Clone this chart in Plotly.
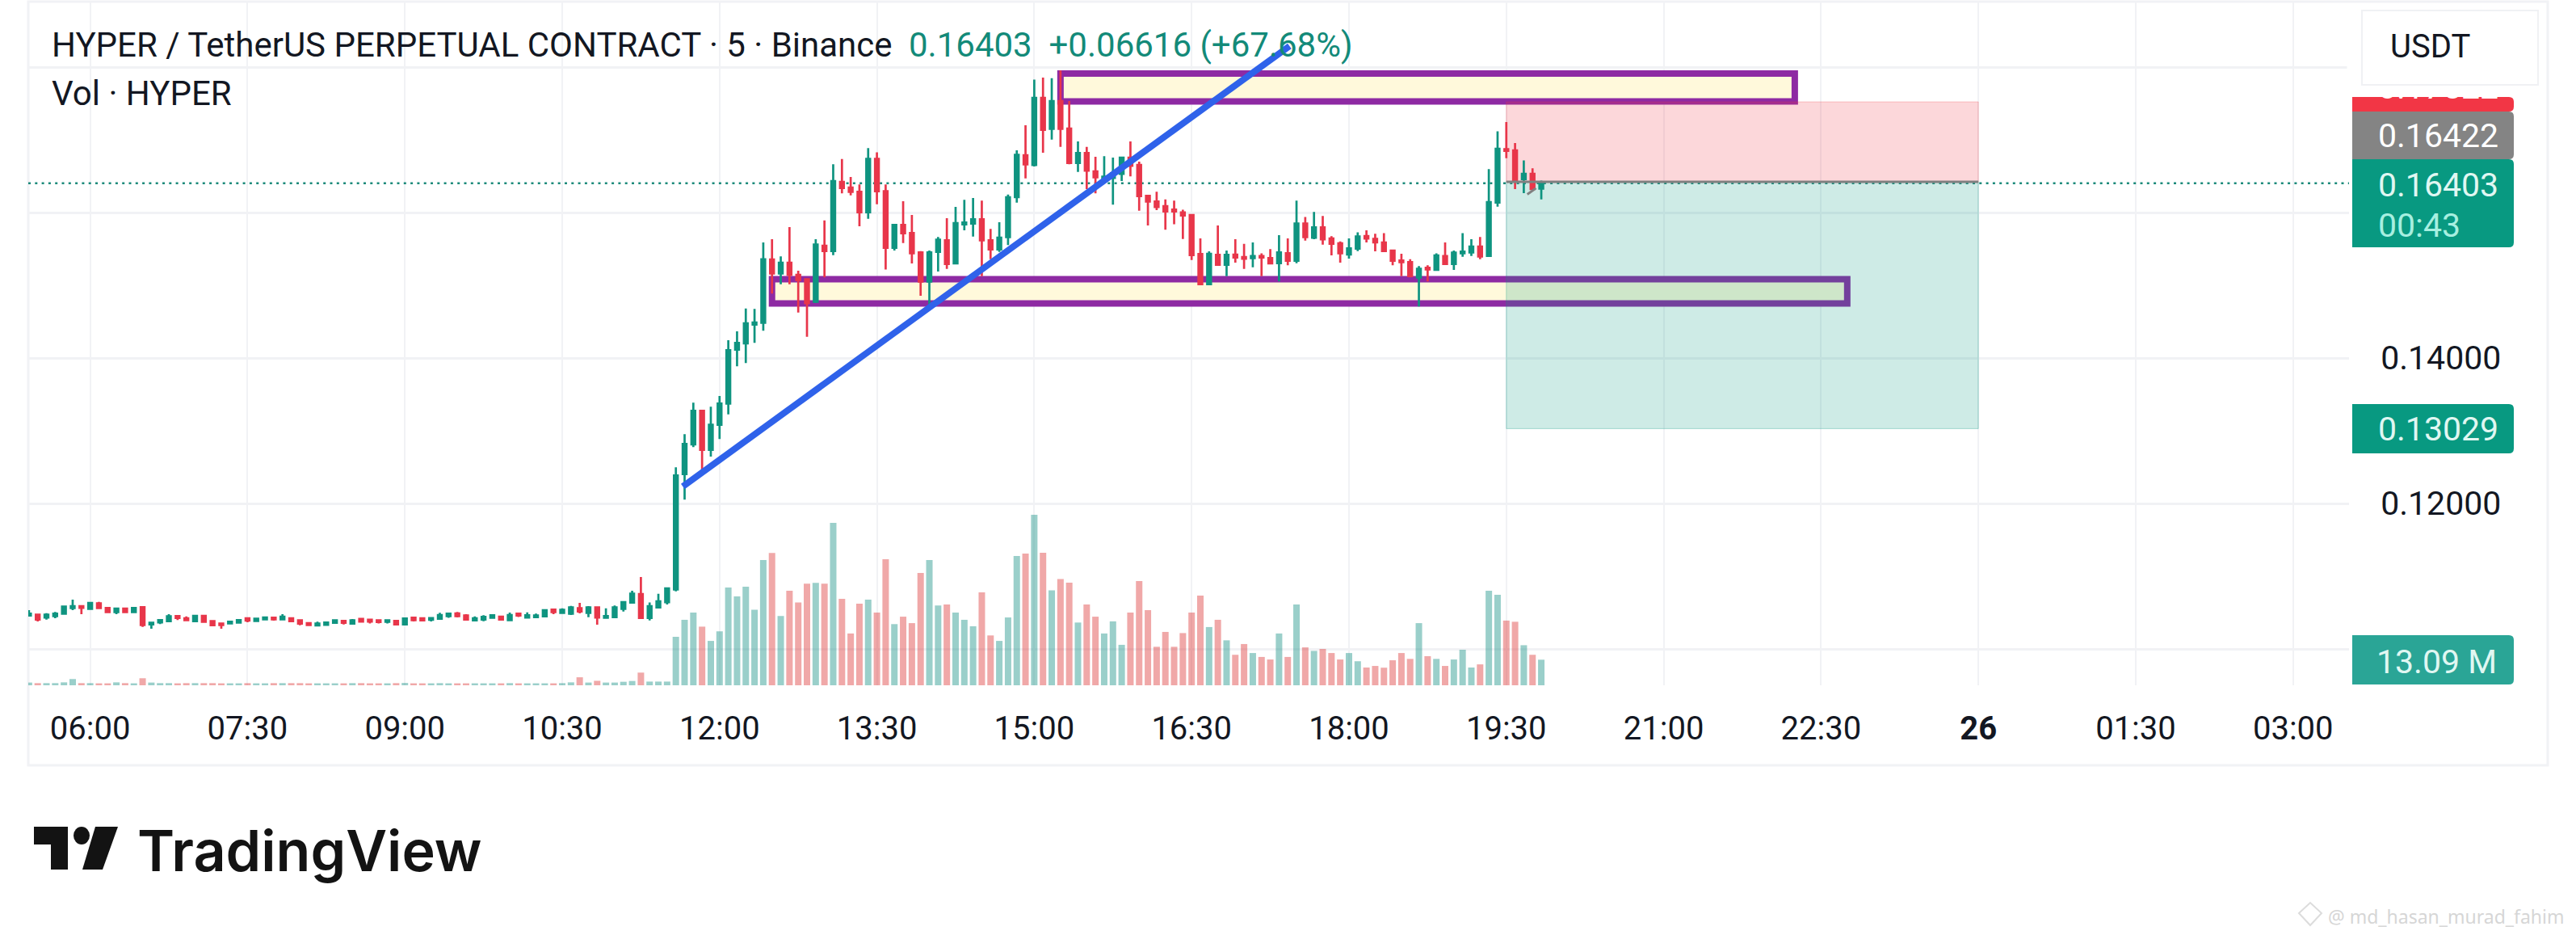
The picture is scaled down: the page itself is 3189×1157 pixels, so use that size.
import pandas as pd
import plotly.graph_objects as go

W, H = 3189, 1157

# 5 minute bars, first one at 05:25
opens = [
    .10459, .10470, .10433, .10452, .10485, .10563, .10589, .10552, .10626, .10563,
    .10507, .10555, .10507, .10574, .10337, .10366, .10381, .10452, .10422, .10381,
    .10455, .10381, .10348, .10352, .10363, .10422, .10385, .10407, .10429, .10407,
    .10422, .10392, .10355, .10322, .10333, .10359, .10385, .10348, .10414, .10403,
    .10392, .10374, .10385, .10337, .10429, .10422, .10400, .10414, .10451, .10488,
    .10459, .10392, .10403, .10429, .10444, .10396, .10485, .10433, .10437, .10448,
    .10540, .10496, .10485, .10559, .10496, .10570, .10429, .10437, .10551, .10637,
    .10755, .10425, .10570, .10644, .10818, .12404, .12811, .13274, .12737, .13081,
    .13374, .14115, .14200, .14459, .14485, .15355, .15163, .15311, .15144, .15081,
    .14774, .15544, .15470, .16422, .16344, .16285, .16003, .16737, .16292, .15514,
    .15829, .15718, .15452, .15052, .15459, .15618, .15300, .15837, .15848, .15907,
    .15618, .15492, .15663, .16211, .16789, .16655, .17577, .17152, .17533, .17155,
    .16681, .16818, .16566, .16477, .16477, .16533, .16755, .16655, .16229, .16152,
    .16089, .16040, .16003, .15966, .15429, .15014, .15418, .15281, .15422, .15389,
    .15374, .15403, .15374, .15303, .15440, .15337, .15848, .15655, .15796, .15644,
    .15577, .15422, .15503, .15677, .15637, .15589, .15477, .15340, .15318, .15107,
    .15240, .15211, .15403, .15292, .15440, .15452, .15533, .15403, .16137, .16870,
    .16855, .16459, .16533, .16329,
]
highs = [
    .10533, .10478, .10492, .10507, .10596, .10678, .10600, .10633, .10648, .10578,
    .10570, .10566, .10566, .10589, .10359, .10411, .10478, .10455, .10448, .10466,
    .10466, .10389, .10352, .10374, .10411, .10426, .10422, .10433, .10433, .10478,
    .10426, .10400, .10359, .10374, .10366, .10407, .10389, .10411, .10422, .10407,
    .10400, .10403, .10400, .10418, .10433, .10429, .10429, .10496, .10488, .10507,
    .10477, .10448, .10463, .10466, .10455, .10500, .10488, .10503, .10485, .10548,
    .10544, .10559, .10592, .10633, .10588, .10581, .10559, .10596, .10659, .10800,
    .10988, .10640, .10759, .10833, .12496, .12952, .13385, .13274, .13330, .13478,
    .14244, .14367, .14681, .14674, .15589, .15633, .15396, .15800, .15200, .15089,
    .15633, .15892, .16663, .16737, .16489, .16385, .16885, .16829, .16385, .15829,
    .16155, .15966, .15470, .15477, .15663, .15922, .16077, .16174, .16200, .16163,
    .15774, .15866, .16248, .16855, .17200, .17829, .17855, .17848, .17952, .17533,
    .16977, .16903, .16766, .16774, .16755, .16766, .16977, .16700, .16237, .16285,
    .16181, .16163, .16040, .15977, .15644, .15466, .15822, .15477, .15633, .15570,
    .15589, .15440, .15496, .15689, .15644, .16163, .15940, .16007, .15952, .15674,
    .15603, .15644, .15729, .15755, .15707, .15718, .15492, .15433, .15359, .15263,
    .15274, .15440, .15589, .15477, .15718, .15633, .15663, .16596, .17118, .17244,
    .16955, .16718, .16607, .16440,
]
lows = [
    .10448, .10378, .10404, .10422, .10478, .10533, .10478, .10544, .10552, .10500,
    .10478, .10500, .10503, .10303, .10278, .10341, .10378, .10396, .10392, .10378,
    .10366, .10318, .10278, .10348, .10359, .10366, .10378, .10404, .10389, .10404,
    .10374, .10326, .10315, .10315, .10322, .10355, .10337, .10348, .10366, .10351,
    .10351, .10351, .10329, .10333, .10377, .10388, .10377, .10411, .10429, .10433,
    .10400, .10388, .10381, .10418, .10400, .10385, .10440, .10433, .10437, .10444,
    .10477, .10488, .10466, .10488, .10437, .10333, .10425, .10433, .10514, .10633,
    .10422, .10392, .10559, .10611, .10792, .12052, .12774, .12422, .12644, .12885,
    .13226, .13885, .13930, .14207, .14374, .14885, .15014, .15014, .14626, .14292,
    .14755, .15107, .15414, .16263, .16237, .15811, .15914, .16114, .15218, .15477,
    .15581, .15300, .14855, .14700, .15189, .15226, .15300, .15755, .15670, .15126,
    .15359, .15459, .15552, .16137, .16470, .16633, .16822, .17003, .16903, .16663,
    .16559, .16322, .16263, .16459, .16107, .16433, .16496, .16026, .15822, .16033,
    .15763, .15840, .15637, .15348, .15014, .15014, .15274, .15126, .15311, .15226,
    .15248, .15126, .15292, .15052, .15274, .15303, .15614, .15633, .15559, .15411,
    .15311, .15366, .15470, .15589, .15466, .15459, .15274, .15126, .15107, .14707,
    .15052, .15200, .15285, .15211, .15392, .15403, .15359, .15403, .16081, .16748,
    .16322, .16266, .16311, .16181,
]
closes = [
    .10485, .10404, .10470, .10485, .10581, .10589, .10566, .10633, .10563, .10507,
    .10555, .10507, .10563, .10329, .10359, .10396, .10448, .10426, .10396, .10455,
    .10374, .10326, .10329, .10374, .10396, .10389, .10415, .10433, .10407, .10444,
    .10381, .10348, .10329, .10348, .10363, .10392, .10359, .10392, .10377, .10377,
    .10370, .10392, .10337, .10418, .10396, .10392, .10425, .10466, .10485, .10451,
    .10403, .10422, .10440, .10463, .10403, .10466, .10459, .10463, .10459, .10533,
    .10507, .10537, .10570, .10514, .10570, .10433, .10451, .10570, .10644, .10759,
    .10425, .10588, .10655, .10833, .12385, .12819, .13274, .12737, .13081, .13374,
    .14107, .14207, .14478, .14489, .15356, .15163, .15311, .15144, .15070, .14755,
    .15559, .15470, .16433, .16337, .16285, .16003, .16737, .16292, .15514, .15829,
    .15714, .15440, .15052, .15452, .15626, .15292, .15855, .15863, .15907, .15618,
    .15492, .15655, .16211, .16792, .16663, .17577, .17137, .17533, .17152, .16681,
    .16818, .16577, .16485, .16492, .16540, .16755, .16644, .16226, .16152, .16077,
    .16014, .16014, .15959, .15414, .15014, .15433, .15281, .15418, .15381, .15366,
    .15403, .15381, .15300, .15452, .15337, .15848, .15663, .15796, .15633, .15570,
    .15440, .15507, .15670, .15644, .15589, .15470, .15337, .15318, .15126, .15226,
    .15218, .15411, .15292, .15448, .15463, .15533, .15396, .16144, .16877, .16848,
    .16448, .16533, .16322, .16403,
]
volumes_m = [
    1.4, 1.1, 1.1, 1.1, 1.5, 3.2, 1.1, 1.1, 1.0, 1.0,
    1.5, 1.1, 1.0, 3.6, 1.4, 1.1, 1.1, 1.0, 1.1, 1.1,
    1.1, 1.1, 1.0, 1.0, 1.0, 1.1, 1.0, 1.0, 1.1, 1.1,
    1.1, 1.1, 1.0, 1.0, 1.0, 1.0, 1.0, 1.1, 1.1, 1.0,
    1.0, 1.0, 1.1, 1.2, 1.0, 1.0, 1.0, 1.1, 1.0, 1.0,
    1.0, 1.0, 1.0, 1.0, 1.0, 1.1, 1.0, 1.0, 1.0, 1.0,
    1.0, 1.1, 1.5, 4.1, 1.4, 2.3, 1.4, 1.4, 1.8, 2.2,
    6.5, 1.9, 1.9, 1.9, 24.8, 33.5, 37.2, 30.0, 22.7, 27.6,
    50.0, 45.5, 50.4, 38.7, 64.1, 67.7, 35.4, 48.4, 42.4, 52.0,
    52.4, 52.0, 83.1, 44.2, 26.5, 41.8, 43.8, 37.2, 64.5, 31.3,
    35.1, 31.8, 57.5, 64.1, 40.8, 41.3, 37.2, 33.5, 30.2, 47.5,
    25.5, 22.7, 34.7, 66.1, 67.4, 87.2, 67.8, 48.6, 54.4, 52.5,
    32.1, 41.3, 35.1, 26.5, 32.7, 20.7, 37.2, 53.3, 38.4, 19.7,
    27.3, 19.7, 26.7, 37.2, 45.9, 29.8, 33.5, 23.0, 15.6, 21.1,
    16.5, 14.5, 13.2, 26.5, 14.5, 41.3, 19.4, 17.6, 18.6, 16.5,
    13.2, 16.5, 12.3, 9.1, 9.9, 9.0, 12.8, 16.5, 13.5, 31.8,
    14.9, 13.5, 9.9, 13.2, 18.2, 9.1, 10.7, 48.4, 46.3, 33.1,
    32.5, 20.5, 15.6, 13.09,
]

time_ticks = ["2025-11-25 06:00", "2025-11-25 07:30", "2025-11-25 09:00", "2025-11-25 10:30",
              "2025-11-25 12:00", "2025-11-25 13:30", "2025-11-25 15:00", "2025-11-25 16:30",
              "2025-11-25 18:00", "2025-11-25 19:30", "2025-11-25 21:00", "2025-11-25 22:30",
              "2025-11-26 00:00", "2025-11-26 01:30", "2025-11-26 03:00"]
time_labels = ["06:00", "07:30", "09:00", "10:30", "12:00", "13:30", "15:00", "16:30",
               "18:00", "19:30", "21:00", "22:30", "<b>26</b>", "01:30", "03:00"]
price_ticks = [0.10, 0.12, 0.14, 0.16, 0.18]
price_labels = ["", "0.12000", "0.14000", "", ""]

time_range = ["2025-11-25 05:24:36", "2025-11-26 03:32:00"]
last_price = 0.16403
entry_price = 0.16422
stop_price = 0.17522
target_price = 0.13029
zone_start, zone_end = "2025-11-25 19:30", "2025-11-26 00:00"
lower_box = ("2025-11-25 12:30", "2025-11-25 22:45", 0.1475, 0.15083)
upper_box = ("2025-11-25 15:15", "2025-11-25 22:15", 0.17528, 0.17911)
trend_line = ("2025-11-25 11:39", "2025-11-25 17:26", 0.12233, 0.18289)
entry_tick = ("2025-11-25 19:42", "2025-11-25 19:47", 0.16250, 0.16335)

GREEN = "#0f9480"
RED = "#e8364a"
TEXT = "#131722"
GRID = "#f1f2f5"
FONT = "Roboto"

times = pd.date_range("2025-11-25 05:25", periods=len(closes), freq="5min")
vol_colors = ["rgba(15,141,129,0.42)" if c >= o else "rgba(219,48,48,0.42)" for o, c in zip(opens, closes)]


def fx(px):
    return px / W


def fy(py):
    return 1 - py / H


def label_shape(x0, x1, y0, y1, color, r=6):
    # right hand corners rounded like the price scale badges
    path = (f"M {fx(x0)} {fy(y0)} L {fx(x1 - r)} {fy(y0)} Q {fx(x1)} {fy(y0)} {fx(x1)} {fy(y0 + r)} "
            f"L {fx(x1)} {fy(y1 - r)} Q {fx(x1)} {fy(y1)} {fx(x1 - r)} {fy(y1)} L {fx(x0)} {fy(y1)} Z")
    return dict(type="path", path=path, xref="paper", yref="paper", fillcolor=color, line_width=0, layer="above")


def poly(points, color):
    path = "M " + " L ".join(f"{fx(x)} {fy(y)}" for x, y in points) + " Z"
    return dict(type="path", path=path, xref="paper", yref="paper", fillcolor=color, line_width=0, layer="above")


def note(text, x, y, size=41, color=TEXT, anchor="left", **kw):
    return dict(text=text, x=fx(x), y=fy(y), xref="paper", yref="paper", xanchor=anchor, yanchor="middle",
                showarrow=False, font=dict(family=kw.pop("family", FONT), size=size, color=color, **kw))


fig = go.Figure()
fig.add_trace(go.Candlestick(
    x=times, open=opens, high=highs, low=lows, close=closes, yaxis="y", whiskerwidth=0,
    increasing=dict(line=dict(color=GREEN, width=2.7), fillcolor=GREEN),
    decreasing=dict(line=dict(color=RED, width=2.7), fillcolor=RED),
    hoverinfo="skip",
))
fig.add_trace(go.Bar(x=times, y=volumes_m, marker_color=vol_colors, marker_line_width=0, yaxis="y2", hoverinfo="skip"))

box_line = dict(color="#8e2aa3", width=8)
box_fill = "#fff9db"
shapes = [
    dict(type="rect", xref="x", yref="y", x0=lower_box[0], x1=lower_box[1], y0=lower_box[2], y1=lower_box[3],
         line=box_line, fillcolor=box_fill, layer="between"),
    dict(type="rect", xref="x", yref="y", x0=upper_box[0], x1=upper_box[1], y0=upper_box[2], y1=upper_box[3],
         line=box_line, fillcolor=box_fill, layer="between"),
    # long/short position tool
    dict(type="rect", xref="x", yref="y", x0=zone_start, x1=zone_end, y0=entry_price, y1=stop_price,
         fillcolor="rgba(242,54,69,0.2)", line=dict(color="rgba(242,54,69,0.25)", width=1), layer="between"),
    dict(type="rect", xref="x", yref="y", x0=zone_start, x1=zone_end, y0=target_price, y1=entry_price,
         fillcolor="rgba(8,153,129,0.2)", line=dict(color="rgba(8,153,129,0.3)", width=1), layer="between"),
    dict(type="line", xref="x", yref="y", x0=time_range[0], x1=time_range[1], y0=last_price, y1=last_price,
         line=dict(color="#1b8a7a", width=2.5, dash="3px,5.3px"), layer="between"),
    dict(type="line", xref="x", yref="y", x0=zone_start, x1=zone_end, y0=entry_price, y1=entry_price,
         line=dict(color="#808080", width=3), layer="above"),
    dict(type="line", xref="x", yref="y", x0=entry_tick[0], x1=entry_tick[1], y0=entry_tick[2], y1=entry_tick[3],
         line=dict(color="#808080", width=3), layer="above"),
    dict(type="line", xref="x", yref="y", x0=trend_line[0], x1=trend_line[1], y0=trend_line[2], y1=trend_line[3],
         line=dict(color="#2f62ea", width=8), layer="above"),
    # outer frame
    dict(type="rect", xref="paper", yref="paper", x0=fx(35), x1=fx(3154), y0=fy(947), y1=fy(2),
         line=dict(color=GRID, width=3), layer="below"),
    # price scale badges
    label_shape(2912, 3112, 120, 138, "#f23645"),
    label_shape(2912, 3112, 138, 197, "#848484"),
    label_shape(2912, 3112, 197, 306, "#089981"),
    label_shape(2912, 3112, 500, 561, "#089981"),
    label_shape(2912, 3112, 786, 847, "#2aa596"),
    # TradingView mark
    poly([(42, 1023), (84, 1023), (84, 1076), (63, 1076), (63, 1045), (42, 1045)], "#131313"),
    dict(type="circle", xref="paper", yref="paper", x0=fx(91), x1=fx(111), y0=fy(1045), y1=fy(1023),
         fillcolor="#131313", line_width=0, layer="above"),
    poly([(118, 1023), (146, 1023), (127, 1076), (102, 1076)], "#131313"),
    # watermark mark
    dict(type="path", xref="paper", yref="paper", layer="above", fillcolor="rgba(0,0,0,0)",
         line=dict(color="#dcdcdc", width=2),
         path=f"M {fx(2846)} {fy(1130)} L {fx(2860)} {fy(1117)} L {fx(2874)} {fy(1130)} L {fx(2860)} {fy(1145)} Z"),
]

annotations = [
    note("HYPER / TetherUS PERPETUAL CONTRACT · 5 · Binance", 62, 55, size=42),
    note("0.16403  +0.06616 (+67.68%)", 1123, 55, size=42, color="#138a79"),
    note("Vol · HYPER", 62, 115, size=42),
    # stop label sits mostly under the currency button, only its lower edge shows
    note("0.17522", 2942, 108, color="white"),
    dict(text=" ", x=fx(2905), y=fy(120), xref="paper", yref="paper", xanchor="left", yanchor="bottom",
         width=215, height=60, showarrow=False, bgcolor="white", borderpad=0),
    dict(text=" ", x=fx(2923), y=fy(106), xref="paper", yref="paper", xanchor="left", yanchor="bottom",
         width=216, height=90, showarrow=False, bgcolor="white", bordercolor="#f0f1f4", borderwidth=2, borderpad=0),
    note("USDT", 2957, 58, size=40),
    note("0.16422", 2942, 168, color="white"),
    note("0.16403", 2942, 229, color="#e0f7f2"),
    note("00:43", 2942, 279, color="#a6efe0"),
    note("0.13029", 2942, 531, color="#e0f7f2"),
    note("13.09 M", 2940, 819, color="#e0f7f2"),
    note("TradingView", 168, 1052, size=70, color="#131313", family="Inter", weight=600),
    note("@ md_hasan_murad_fahim", 2880, 1134, size=23, color="#d6d6d6", family="Noto Sans"),
]

fig.update_layout(
    width=W, height=H, margin=dict(l=0, r=0, t=0, b=0), autosize=False,
    paper_bgcolor="white", plot_bgcolor="white", showlegend=False, hovermode=False,
    bargap=0.26, boxgap=0.38, shapes=shapes, annotations=annotations,
    xaxis=dict(
        domain=[fx(35), fx(2908)], type="date", range=time_range,
        tickmode="array", tickvals=time_ticks, ticktext=time_labels, tickangle=0,
        tickfont=dict(family=FONT, size=40, color=TEXT), ticks="outside", ticklen=18, tickcolor="rgba(0,0,0,0)",
        showgrid=True, gridcolor=GRID, gridwidth=2, zeroline=False, showline=False, rangeslider=dict(visible=False),
    ),
    yaxis=dict(
        domain=[fy(848), fy(2)], side="right", anchor="x", range=[0.095, 0.189],
        tickmode="array", tickvals=price_ticks, ticktext=price_labels,
        tickfont=dict(family=FONT, size=41, color=TEXT), ticks="outside", ticklen=30, tickcolor="rgba(0,0,0,0)",
        showgrid=True, gridcolor=GRID, gridwidth=3, zeroline=False, showline=False,
    ),
    yaxis2=dict(overlaying="y", range=[0, 349.7], visible=False, showgrid=False, zeroline=False),
)

fig.write_html("out.html", config=dict(displayModeBar=False), post_script="document.body.style.margin='0';")
